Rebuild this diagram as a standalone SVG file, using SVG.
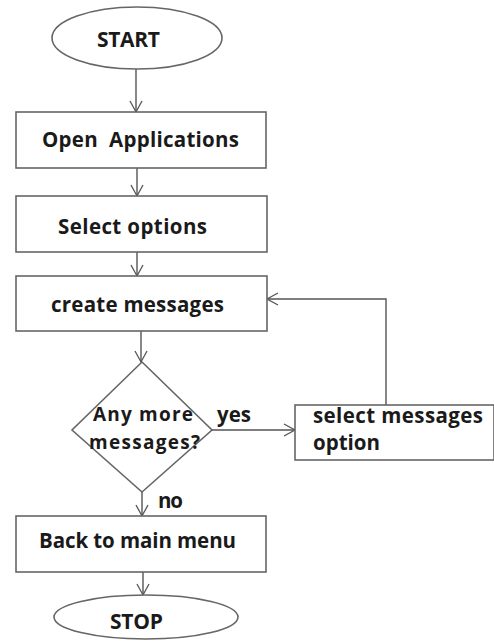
<svg xmlns="http://www.w3.org/2000/svg" width="494" height="641" viewBox="0 0 494 641">
<style>
.s{fill:#fff;stroke:#666;stroke-width:1.6}
.t{font-family:"Open Sans","Liberation Sans",sans-serif;font-weight:bold;font-size:20.5px;fill:#1a1a1a}
.d{font-size:19px}
.c{fill:none;stroke:#555;stroke-width:1.4}
</style>
<defs>
<marker id="a" markerWidth="14" markerHeight="14" refX="12" refY="7" orient="auto" markerUnits="userSpaceOnUse">
<polyline points="1,1 12,7 1,13" fill="none" stroke="#555" stroke-width="1.3"/>
</marker>
</defs>
<rect width="494" height="641" fill="#fff"/>
<g id="connectors">
<line class="c" x1="136" y1="69" x2="136" y2="112" marker-end="url(#a)"/>
<line class="c" x1="137" y1="168" x2="137" y2="196" marker-end="url(#a)"/>
<line class="c" x1="137" y1="252" x2="137" y2="276" marker-end="url(#a)"/>
<line class="c" x1="141" y1="331" x2="141" y2="362" marker-end="url(#a)"/>
<line class="c" x1="212" y1="430" x2="295" y2="430" marker-end="url(#a)"/>
<polyline class="c" points="386,405 386,299 267,299" marker-end="url(#a)"/>
<line class="c" x1="142" y1="492" x2="142" y2="516" marker-end="url(#a)"/>
<line class="c" x1="143" y1="572" x2="143" y2="595" marker-end="url(#a)"/>
<text class="t" x="217" y="422" textLength="34">yes</text>
<text class="t" x="158" y="508" textLength="25">no</text>
</g>
<g id="start">
<ellipse class="s" cx="137" cy="38" rx="85" ry="31"/>
<text class="t" x="97" y="47" textLength="63" style="font-size:21px">START</text>
</g>
<g id="open">
<rect class="s" x="16" y="112" width="250" height="56"/>
<text class="t" x="42" y="147" textLength="197" xml:space="preserve">Open  Applications</text>
</g>
<g id="select">
<rect class="s" x="16" y="196" width="251" height="56"/>
<text class="t" x="58" y="234" textLength="149">Select options</text>
</g>
<g id="create">
<rect class="s" x="16" y="276" width="251" height="55"/>
<text class="t" x="51" y="312" textLength="173">create messages</text>
</g>
<g id="decision">
<polygon class="s" points="142,362 212,430 142,492 72,430"/>
<text class="t d" x="93" y="421" textLength="100">Any more</text>
<text class="t d" x="89" y="449" textLength="111">messages?</text>
</g>
<g id="selectmsg">
<rect class="s" x="295" y="405" width="199" height="55"/>
<text class="t" x="313" y="423" textLength="170">select messages</text>
<text class="t" x="313" y="450" textLength="67">option</text>
</g>
<g id="back">
<rect class="s" x="16" y="516" width="250" height="56"/>
<text class="t" x="39" y="548" textLength="197">Back to main menu</text>
</g>
<g id="stop">
<ellipse class="s" cx="146" cy="617" rx="92" ry="22"/>
<text class="t" x="110" y="629" textLength="53" style="font-size:21px">STOP</text>
</g>
</svg>
